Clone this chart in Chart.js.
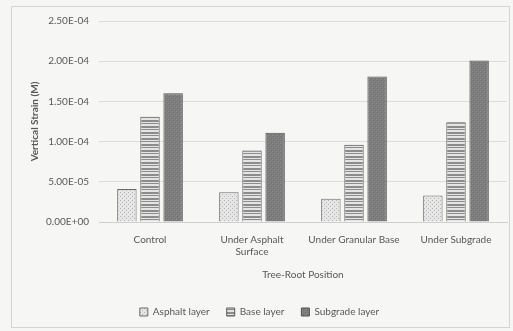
<!DOCTYPE html>
<html>
<head>
<meta charset="utf-8">
<script src="https://cdn.jsdelivr.net/npm/chart.js@4/dist/chart.umd.min.js"></script>
<style>
  html, body { margin: 0; padding: 0; background: #f6f6f4; }
  #wrap { width: 513px; height: 331px; position: relative; }
</style>
</head>
<body>
<div id="wrap"><canvas id="c" width="513" height="331"></canvas></div>
<script>
// Tree-root position categories (multi-line labels)
const categories = ["Control", ["Under Asphalt", "Surface"], "Under Granular Base", "Under Subgrade"];

// Vertical strain per pavement layer
const asphaltLayer  = [4.1e-5, 3.7e-5, 2.9e-5, 3.3e-5];
const baseLayer     = [1.31e-4, 8.9e-5, 9.6e-5, 1.24e-4];
const subgradeLayer = [1.60e-4, 1.11e-4, 1.81e-4, 2.01e-4];

const seriesNames = ["Asphalt layer", "Base layer", "Subgrade layer"];

// Axis range
const yMin = 0, yMax = 2.5e-4, yStep = 5e-5;

// Fill patterns for each layer
function makePattern(kind) {
  const p = document.createElement("canvas");
  const ctx = p.getContext("2d");
  if (kind === "dots") {
    p.width = 4; p.height = 4;
    ctx.fillStyle = "#e6e6e6"; ctx.fillRect(0, 0, 4, 4);
    ctx.fillStyle = "#b4b4b4";
    ctx.fillRect(0, 0, 1, 1); ctx.fillRect(2, 2, 1, 1);
  } else if (kind === "stripes") {
    p.width = 4; p.height = 6;
    ctx.fillStyle = "#e4e4e4"; ctx.fillRect(0, 0, 4, 6);
    ctx.fillStyle = "#8c8c8c";
    ctx.fillRect(0, 0, 4, 2); ctx.fillRect(0, 3, 4, 1);
  } else {
    p.width = 4; p.height = 4;
    ctx.fillStyle = "#7e7e7e"; ctx.fillRect(0, 0, 4, 4);
    ctx.fillStyle = "#6e6e6e";
    ctx.fillRect(1, 0, 1, 1); ctx.fillRect(3, 2, 1, 1);
    ctx.fillStyle = "#8c8c8c";
    ctx.fillRect(0, 3, 1, 1); ctx.fillRect(2, 1, 1, 1);
  }
  return ctx.createPattern(p, "repeat");
}

function sciLabel(v) {
  if (Math.abs(v) < 1e-12) return "0.00E+00";
  const [m, e] = v.toExponential(2).split("e");
  const n = parseInt(e, 10);
  const sign = n < 0 ? "-" : "+";
  return m + "E" + sign + String(Math.abs(n)).padStart(2, "0");
}

// Light frame around the whole chart
const framePlugin = {
  id: "frame",
  beforeDraw(chart) {
    const ctx = chart.ctx;
    ctx.save();
    ctx.strokeStyle = "#d4d4d4";
    ctx.lineWidth = 1;
    ctx.strokeRect(11.5, 6.5, 498, 321);
    ctx.restore();
  }
};

const fontFamily = "Lato, 'Open Sans', sans-serif";
const textColor = "#585858";

new Chart(document.getElementById("c"), {
  type: "bar",
  data: {
    labels: categories,
    datasets: [
      { label: seriesNames[0], data: asphaltLayer,  backgroundColor: makePattern("dots"),    borderColor: "#6a6a6a", borderWidth: 1 },
      { label: seriesNames[1], data: baseLayer,     backgroundColor: makePattern("stripes"), borderColor: "#5a5a5a", borderWidth: 1 },
      { label: seriesNames[2], data: subgradeLayer, backgroundColor: makePattern("solid"),   borderColor: "#505050", borderWidth: 1 }
    ]
  },
  options: {
    responsive: false,
    animation: false,
    devicePixelRatio: 1,
    layout: { padding: { top: 21, left: 12, right: 6, bottom: 4 } },
    datasets: { bar: { categoryPercentage: 0.68, barPercentage: 0.84 } },
    plugins: {
      legend: {
        position: "bottom",
        labels: {
          boxWidth: 8, boxHeight: 8, padding: 17,
          color: textColor, font: { family: fontFamily, size: 10 }
        }
      },
      tooltip: { enabled: false }
    },
    scales: {
      x: {
        grid: { display: false },
        border: { color: "#cfcfcf" },
        ticks: { color: textColor, font: { family: fontFamily, size: 10 }, maxRotation: 0, autoSkip: false, padding: 4 },
        title: { display: true, text: "Tree-Root Position", color: textColor, font: { family: fontFamily, size: 10 }, padding: { top: 7, bottom: 9 } }
      },
      y: {
        min: yMin, max: yMax,
        grid: { color: "#dcdcdc", drawTicks: false },
        border: { display: false },
        ticks: { stepSize: yStep, callback: v => sciLabel(v), color: textColor, font: { family: fontFamily, size: 10 }, padding: 10 },
        title: { display: true, text: "Vertical Strain (M)", color: textColor, font: { family: fontFamily, size: 10, weight: "bold" }, padding: { top: 17, bottom: 0 } },
        afterFit(scale) { scale.width = 87; }
      }
    }
  },
  plugins: [framePlugin]
});
</script>
</body>
</html>
